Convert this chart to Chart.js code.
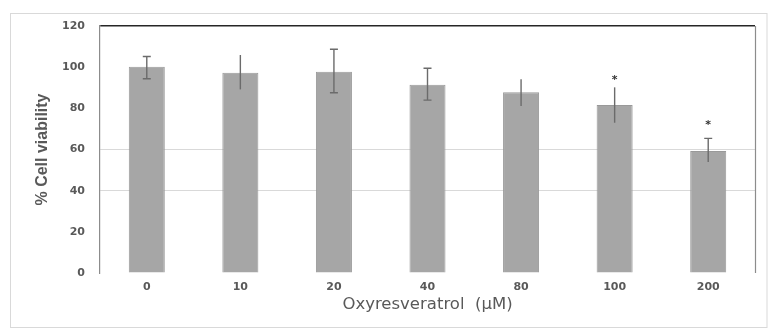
<!DOCTYPE html>
<html>
<head>
<meta charset="utf-8">
<script src="https://cdn.jsdelivr.net/npm/chart.js@4"></script>
<style>
  html, body { margin: 0; padding: 0; background: #fff; }
  #wrap { position: relative; width: 768px; height: 329px; }
</style>
</head>
<body>
<div id="wrap"><canvas id="viabilityChart"></canvas></div>
<script>
// <![CDATA[
var doses = ['0', '10', '20', '40', '80', '100', '200'];
var viability = [100.2, 97.3, 97.8, 91.5, 87.8, 81.6, 59.3];
var errUp = [5, 8.6, 10.9, 8, 6.3, 8.6, 6.1];
var errDown = [5.8, 8.1, 10.2, 7.5, 6.7, 8.6, 5.4];
var errCapped = [true, false, true, true, false, false, true];
var starY = [null, null, null, null, null, 94.6, 72.7];
var yTicks = [0, 20, 40, 60, 80, 100, 120];

var textGray = '#595959';

// error bars, significance stars and frame lines
var extras = {
  id: 'extras',
  beforeDraw: function (chart) {
    var c = chart.ctx;
    c.save();
    c.strokeStyle = '#d9d9d9';
    c.lineWidth = 1;
    c.strokeRect(10.5, 13.5, chart.width - 11.5, chart.height - 15);
    c.restore();
  },
  afterDatasetsDraw: function (chart) {
    var c = chart.ctx;
    var y = chart.scales.y;
    var meta = chart.getDatasetMeta(0);
    var a = chart.chartArea;
    c.save();
    // right frame line
    c.strokeStyle = '#8c8c8c';
    c.lineWidth = 1.2;
    c.beginPath();
    c.moveTo(a.right + 0.5, a.top);
    c.lineTo(a.right + 0.5, a.bottom);
    c.stroke();
    // error bars
    c.strokeStyle = '#6b6b6b';
    c.lineWidth = 1.4;
    meta.data.forEach(function (bar, i) {
      var top = y.getPixelForValue(viability[i] + errUp[i]);
      var bot = y.getPixelForValue(viability[i] - errDown[i]);
      c.beginPath();
      c.moveTo(bar.x, top);
      c.lineTo(bar.x, bot);
      if (errCapped[i]) {
        c.moveTo(bar.x - 4, top);
        c.lineTo(bar.x + 4, top);
        if (i !== 6) {
          c.moveTo(bar.x - 4, bot);
          c.lineTo(bar.x + 4, bot);
        }
      }
      c.stroke();
    });
    // stars
    c.fillStyle = '#333';
    c.font = 'bold 11px "DejaVu Sans", sans-serif';
    c.textAlign = 'center';
    c.textBaseline = 'middle';
    meta.data.forEach(function (bar, i) {
      if (starY[i] != null) {
        c.fillText('*', bar.x, y.getPixelForValue(starY[i]) + 2);
      }
    });
    c.restore();
  }
};

var ctx = document.getElementById('viabilityChart').getContext('2d');
new Chart(ctx, {
  type: 'bar',
  data: {
    labels: doses,
    datasets: [{
      data: viability,
      backgroundColor: '#a6a6a6',
      borderColor: '#999999',
      borderWidth: 1,
      categoryPercentage: 1,
      barPercentage: 0.385
    }]
  },
  options: {
    responsive: true,
    maintainAspectRatio: false,
    animation: false,
    layout: { padding: { top: 26, right: 13, left: 0, bottom: 0 } },
    plugins: {
      legend: { display: false },
      tooltip: { enabled: false }
    },
    scales: {
      x: {
        grid: { display: false, drawTicks: false },
        border: { display: false },
        ticks: {
          color: textGray,
          padding: 8,
          font: { family: '"DejaVu Sans", sans-serif', size: 11, weight: 'bold' }
        },
        title: {
          display: true,
          text: 'Oxyresveratrol  (\u00b5M)',
          color: textGray,
          padding: { top: 0, bottom: 14 },
          font: { family: '"DejaVu Sans", sans-serif', size: 16.5 }
        },
        afterFit: function (s) { s.height = 56; }
      },
      y: {
        min: 0,
        max: 120,
        afterBuildTicks: function (s) { s.ticks = yTicks.map(function (v) { return { value: v }; }); },
        grid: {
          drawTicks: false,
          color: function (c) {
            var v = c.tick && c.tick.value;
            if (v === 120) return '#262626';
            if (v === 40 || v === 60) return '#d9d9d9';
            return 'rgba(0,0,0,0)';
          },
          lineWidth: function (c) { return c.tick && c.tick.value === 120 ? 1.5 : 1; }
        },
        border: { display: true, color: '#8c8c8c', width: 1.2 },
        ticks: {
          color: textGray,
          padding: 15,
          font: { family: '"DejaVu Sans", sans-serif', size: 11, weight: 'bold' }
        },
        title: {
          display: true,
          text: '% Cell viability',
          color: textGray,
          padding: { top: 33, bottom: 0 },
          font: { family: '"Liberation Sans", Arial, sans-serif', size: 16, weight: 'bold' }
        },
        afterFit: function (s) { s.width = 100; }
      }
    }
  },
  plugins: [extras]
});
// ]]>
</script>
</body>
</html>
